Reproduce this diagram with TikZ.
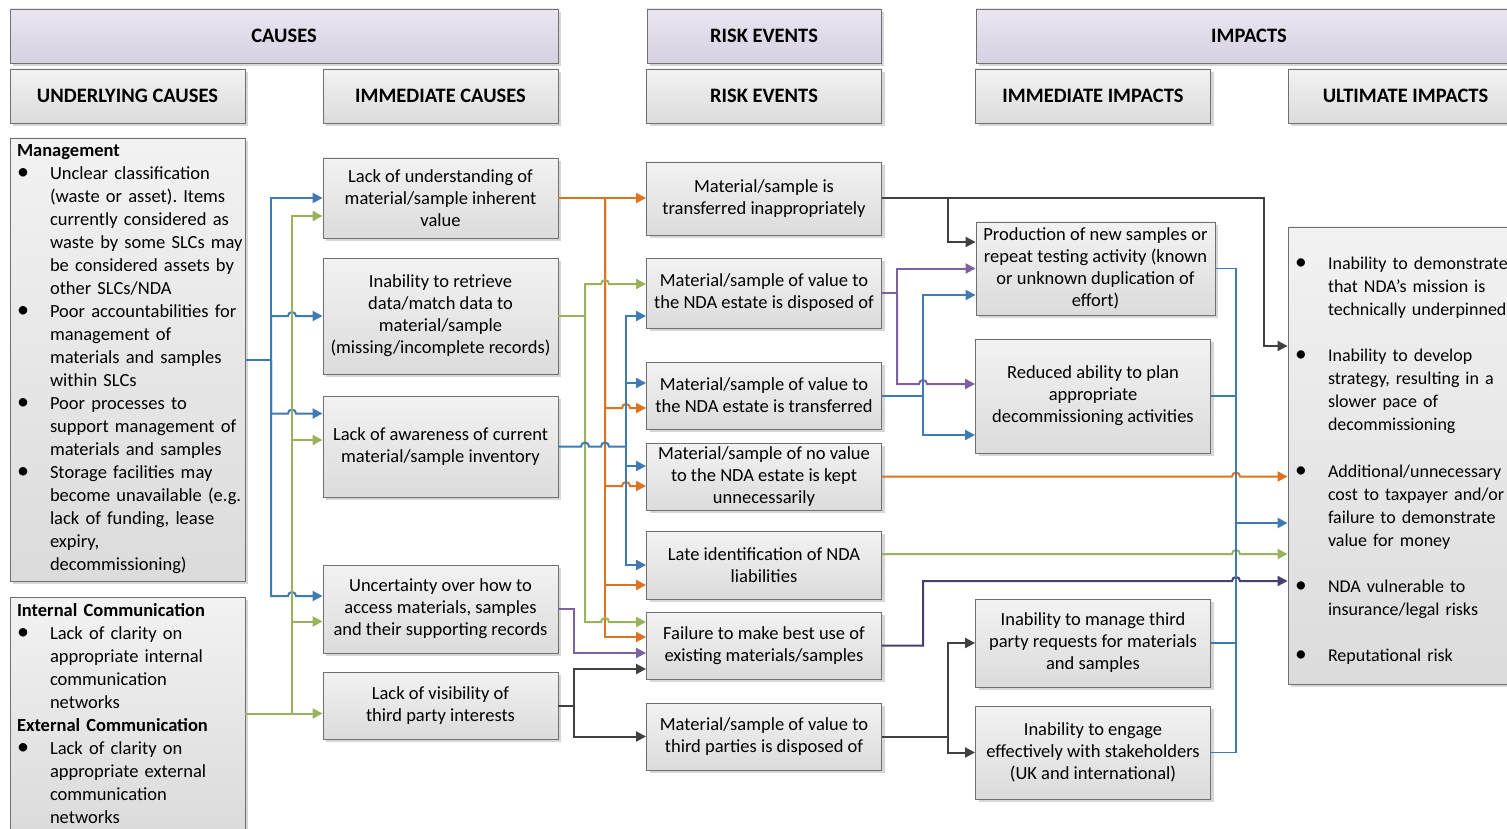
\documentclass[tikz,border=0pt]{standalone}
\usepackage{fontspec}
\setmainfont{Carlito}
\usepackage{graphicx}
\usetikzlibrary{arrows.meta, shadows}

\definecolor{linkblue}{HTML}{3F7AB5}
\definecolor{linkgreen}{HTML}{9AB35A}
\definecolor{linkorange}{HTML}{DD7320}
\definecolor{linkpurple}{HTML}{7A62A3}
\definecolor{linkdark}{HTML}{404040}
\definecolor{linkplum}{HTML}{4A3E6E}
\definecolor{boxedge}{HTML}{707070}
\definecolor{bandtop}{HTML}{EAE6F1}
\definecolor{bandbottom}{HTML}{D6D0E0}

\newcommand{\hopover}{arc[start angle=180, end angle=0, radius=4pt]}
\newcommand{\bul}[1]{\par{\hangindent=33pt\hangafter=1\rightskip=-40pt plus 1fil\noindent\let\\\newline
    \makebox[33pt][l]{\scalebox{1.3}{\textbullet}}#1\par}}

\tikzset{
    >={Triangle[length=10pt, width=10pt]},
    panel/.style={draw=boxedge, line width=0.9pt, top color=black!5, bottom color=black!14,
        drop shadow={shadow xshift=3pt, shadow yshift=-3pt, fill=black!16, opacity=1}},
    band/.style={panel, top color=bandtop, bottom color=bandbottom, minimum height=54pt,
        font=\fontsize{20.5}{24}\selectfont\bfseries},
    head/.style={panel, minimum width=235pt, minimum height=54pt, font=\fontsize{20.5}{24}\selectfont\bfseries},
    box/.style={panel, minimum width=235pt, align=center, font=\fontsize{18.5}{22}\selectfont},
    list/.style={panel, minimum width=235pt, inner xsep=7pt, text width=221pt, align=left,
        font=\fontsize{18.5}{23}\selectfont\frenchspacing},
    link/.style={line width=2pt},
    feed/.style={line width=1.5pt, linkblue}
}

\begin{document}
\begin{tikzpicture}[x=1pt, y=-1pt]
\useasboundingbox (0,0) rectangle (1507,829);
\clip (0,0) rectangle (1507,829);

\node[band, minimum width=548pt] (causes)  at (284,36)  {CAUSES};
\node[band, minimum width=234pt] (events)  at (764,36)  {RISK EVENTS};
\node[band, minimum width=546pt] (impacts) at (1249,36) {IMPACTS};
\node[head] (hUnder)  at (127.5,96)  {UNDERLYING CAUSES};
\node[head] (hImm)    at (440.5,96)  {IMMEDIATE CAUSES};
\node[head] (hEvents) at (764,96)    {RISK EVENTS};
\node[head] (hImmImp) at (1093,96)   {IMMEDIATE IMPACTS};
\node[head] (hUltImp) at (1405.5,96) {ULTIMATE IMPACTS};

\node[list] (mgmt) [minimum height=443pt] at (127.5,359.5)
    {\textbf{Management}
     \bul{Unclear classification\\(waste or asset). Items\\currently considered as\\waste by some SLCs may\\be considered assets by\\other SLCs/NDA}
     \bul{Poor accountabilities for\\management of\\materials and samples\\within SLCs}
     \bul{Poor processes to\\support management of\\materials and samples}
     \bul{Storage facilities may\\become unavailable (e.g.\\lack of funding, lease\\expiry,\\decommissioning)}};
\node[list] (comm) [minimum height=233pt] at (127.5,713.5)
    {\textbf{Internal Communication}
     \bul{Lack of clarity on\\appropriate internal\\communication\\networks}
     \textbf{External Communication}
     \bul{Lack of clarity on\\appropriate external\\communication\\networks}};

\node[box] (ic1) [minimum height=80pt]  at (440.5,198)   {Lack of understanding of\\material/sample inherent\\value};
\node[box] (ic2) [minimum height=116pt] at (440.5,316)   {Inability to retrieve\\data/match data to\\material/sample\\(missing/incomplete records)};
\node[box] (ic3) [minimum height=101pt] at (440.5,446.5) {Lack of awareness of current\\material/sample inventory};
\node[box] (ic4) [minimum height=88pt]  at (440.5,609)   {Uncertainty over how to\\access materials, samples\\and their supporting records};
\node[box] (ic5) [minimum height=67pt]  at (440.5,705.5) {Lack of visibility of\\third party interests};

\node[box] (re1) [minimum height=73pt] at (764,198.5) {Material/sample is\\transferred inappropriately};
\node[box] (re2) [minimum height=70pt] at (764,293)   {Material/sample of value to\\the NDA estate is disposed of};
\node[box] (re3) [minimum height=67pt] at (764,395.5) {Material/sample of value to\\the NDA estate is transferred};
\node[box] (re4) [minimum height=67pt] at (764,476.5) {Material/sample of no value\\to the NDA estate is kept\\unnecessarily};
\node[box] (re5) [minimum height=68pt] at (764,565)   {Late identification of NDA\\liabilities};
\node[box] (re6) [minimum height=67pt] at (764,645.5) {Failure to make best use of\\existing materials/samples};
\node[box] (re7) [minimum height=67pt] at (764,736.5) {Material/sample of value to\\third parties is disposed of};

\node[box] (ii1) [minimum width=239pt, minimum height=93pt] at (1095.5,268.5) {Production of new samples or\\repeat testing activity (known\\or unknown duplication of\\effort)};
\node[box] (ii2) [minimum height=114pt] at (1093,396)   {Reduced ability to plan\\appropriate\\decommissioning activities};
\node[box] (ii3) [minimum height=88pt]  at (1093,643)   {Inability to manage third\\party requests for materials\\and samples};
\node[box] (ii4) [minimum height=93pt]  at (1093,752.5) {Inability to engage\\effectively with stakeholders\\(UK and international)};

\node[list] (ult) [minimum height=457pt, font=\fontsize{18}{23.1}\selectfont] at (1405.5,455.5)
    {\bul{Inability to demonstrate\\that NDA’s mission is\\technically underpinned}\vspace{23.1pt}
     \bul{Inability to develop\\strategy, resulting in a\\slower pace of\\decommissioning}\vspace{23.1pt}
     \bul{Additional/unnecessary\\cost to taxpayer and/or\\failure to demonstrate\\value for money}\vspace{23.1pt}
     \bul{NDA vulnerable to\\insurance/legal risks}\vspace{23.1pt}
     \bul{Reputational risk}};

\coordinate (tMg) at (271,0);
\coordinate (tCo) at (292,0);
\coordinate (tCx) at (574,0);
\coordinate (tGr) at (585,0);
\coordinate (tOr) at (605,0);
\coordinate (tBl) at (626,0);
\coordinate (tRb) at (897,0);
\coordinate (tRc) at (923,0);
\coordinate (tRa) at (948,0);
\coordinate (tII) at (1236,0);
\coordinate (tUl) at (1264,0);

\draw[link, linkblue] (mgmt.east) -- (mgmt.east -| tMg);
\draw[link, linkblue, ->] (mgmt.east -| tMg) |- (ic1.west);
\draw[link, linkblue, ->] (mgmt.east -| tMg) |- ([xshift=-4pt]ic2.west -| tCo) \hopover -- (ic2.west);
\draw[link, linkblue, ->] (mgmt.east -| tMg) |- ([xshift=-4pt, yshift=33pt]ic3.west -| tCo) \hopover -- ([yshift=33pt]ic3.west);
\draw[link, linkblue, ->] (mgmt.east -| tMg) |- ([xshift=-4pt, yshift=13pt]ic4.west -| tCo) \hopover -- ([yshift=13pt]ic4.west);

\draw[link, linkgreen, ->] (comm.east) -- (comm.east -| ic5.west);
\draw[link, linkgreen, ->] (comm.east -| tCo) |- ([yshift=-18pt]ic1.west);
\draw[link, linkgreen, ->] (comm.east -| tCo) |- ([yshift=6.5pt]ic3.west);
\draw[link, linkgreen, ->] (comm.east -| tCo) |- ([yshift=-12.5pt]ic4.west);

\draw[link, linkorange, ->] (ic1.east) -- (ic1.east -| re1.west);
\draw[link, linkorange, ->] (ic1.east -| tOr) |- ([xshift=-4pt, yshift=-12.5pt]re3.west -| tBl) \hopover -- ([yshift=-12.5pt]re3.west);
\draw[link, linkorange, ->] (ic1.east -| tOr) |- ([xshift=-4pt, yshift=-9.5pt]re4.west -| tBl) \hopover -- ([yshift=-9.5pt]re4.west);
\draw[link, linkorange, ->] (ic1.east -| tOr) |- ([yshift=-20pt]re5.west);
\draw[link, linkorange, ->] (ic1.east -| tOr) |- ([yshift=8.5pt]re6.west);

\draw[link, linkgreen] (ic2.east) -- (ic2.east -| tGr);
\draw[link, linkgreen, ->] (ic2.east -| tGr) |- ([xshift=-4pt, yshift=9pt]re2.west -| tOr) \hopover -- ([yshift=9pt]re2.west);
\draw[link, linkgreen, ->] (ic2.east -| tGr) |- ([xshift=-4pt, yshift=23.5pt]re6.west -| tOr) \hopover -- ([yshift=23.5pt]re6.west);

\draw[link, linkblue] (ic3.east) -- ([xshift=-4pt]ic3.east -| tGr) \hopover -- ([xshift=-4pt]ic3.east -| tOr) \hopover -- (ic3.east -| tBl);
\draw[link, linkblue, ->] (ic3.east -| tBl) |- ([yshift=-23pt]re2.west);
\draw[link, linkblue, ->] (ic3.east -| tBl) |- ([yshift=12.5pt]re3.west);
\draw[link, linkblue, ->] (ic3.east -| tBl) |- ([yshift=10.5pt]re4.west);
\draw[link, linkblue, ->] (ic3.east -| tBl) |- (re5.west);

\draw[link, linkpurple, ->] (ic4.east) -- (ic4.east -| tCx) |- ([yshift=-7.5pt]re6.west);
\draw[link, linkdark, ->] (ic5.east) -- (ic5.east -| tCx) |- ([yshift=-23.5pt]re6.west);
\draw[link, linkdark, ->] (ic5.east -| tCx) |- (re7.west);

\draw[link, linkdark, ->] (re1.east) -- (re1.east -| tUl) |- ([yshift=109.5pt]ult.west);
\draw[link, linkdark, ->] (re1.east -| tRa) |- ([yshift=26.5pt]ii1.west);
\draw[link, linkpurple] (re2.east) -- (re2.east -| tRb);
\draw[link, linkpurple, ->] (re2.east -| tRb) |- (ii1.west);
\draw[link, linkpurple, ->] (re2.east -| tRb) |- ([xshift=-4pt, yshift=12pt]ii2.west -| tRc) \hopover -- ([yshift=12pt]ii2.west);
\draw[link, linkblue] (re3.east) -- (re3.east -| tRc);
\draw[link, linkblue, ->] (re3.east -| tRc) |- ([yshift=-26.5pt]ii1.west);
\draw[link, linkblue, ->] (re3.east -| tRc) |- ([yshift=-39pt]ii2.west);
\draw[link, linkorange, ->] (re4.east) -- ([xshift=-4pt]re4.east -| tII) \hopover -- (re4.east -| ult.west);
\draw[link, linkgreen, ->] ([yshift=11pt]re5.east) -- ([xshift=-4pt, yshift=11pt]re5.east -| tII) \hopover -- ([yshift=11pt]re5.east -| ult.west);
\draw[link, linkplum, ->] (re6.east) -- (re6.east -| tRc) |- ([xshift=-4pt, yshift=-125.5pt]ult.west -| tII) \hopover -- ([yshift=-125.5pt]ult.west);
\draw[link, linkdark, ->] (re7.east) -- (re7.east -| tRa) |- (ii3.west);
\draw[link, linkdark, ->] (re7.east -| tRa) |- (ii4.west);

\draw[feed] (ii1.east) -- (ii1.east -| tII) -- (ii4.east -| tII) -- (ii4.east);
\draw[feed] (ii2.east) -- (ii2.east -| tII);
\draw[feed] (ii3.east) -- (ii3.east -| tII);
\draw[link, linkblue, line width=2.6pt, ->] ([yshift=-67.5pt]ult.west -| tII) -- ([yshift=-67.5pt]ult.west);
\end{tikzpicture}
\end{document}
